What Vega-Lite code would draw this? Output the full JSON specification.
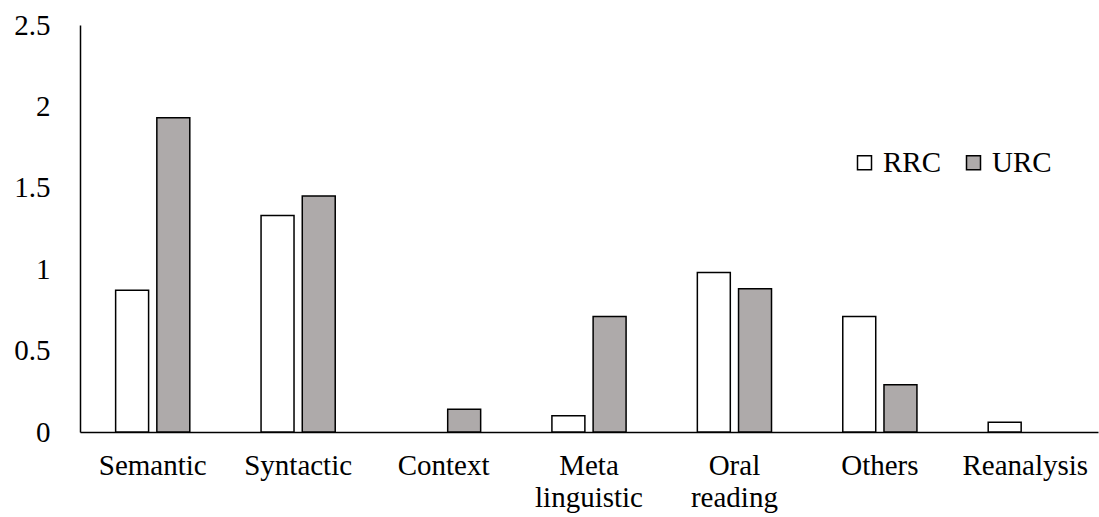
{
  "$schema": "https://vega.github.io/schema/vega-lite/v6.json",
  "autosize": {"type": "none"},
  "width": 1018,
  "height": 407,
  "padding": {"left": 80, "top": 25, "right": 1, "bottom": 85},
  "background": "white",
  "config": {
    "view": {"stroke": null},
    "font": "'Liberation Serif', serif",
    "text": {"font": "'Liberation Serif', serif"}
  },
  "data": {
    "values": [
      {"category": "Semantic", "group": "RRC", "value": 0.87},
      {"category": "Semantic", "group": "URC", "value": 1.93},
      {"category": "Syntactic", "group": "RRC", "value": 1.33},
      {"category": "Syntactic", "group": "URC", "value": 1.45},
      {"category": "Context", "group": "RRC", "value": 0},
      {"category": "Context", "group": "URC", "value": 0.14},
      {"category": "Meta linguistic", "group": "RRC", "value": 0.10},
      {"category": "Meta linguistic", "group": "URC", "value": 0.71},
      {"category": "Oral reading", "group": "RRC", "value": 0.98},
      {"category": "Oral reading", "group": "URC", "value": 0.88},
      {"category": "Others", "group": "RRC", "value": 0.71},
      {"category": "Others", "group": "URC", "value": 0.29},
      {"category": "Reanalysis", "group": "RRC", "value": 0.06},
      {"category": "Reanalysis", "group": "URC", "value": 0}
    ]
  },
  "transform": [{"filter": "datum.value > 0"}],
  "mark": {"type": "bar", "stroke": "black", "strokeWidth": 1.5},
  "encoding": {
    "x": {
      "field": "category",
      "type": "nominal",
      "sort": ["Semantic", "Syntactic", "Context", "Meta linguistic", "Oral reading", "Others", "Reanalysis"],
      "scale": {"paddingInner": 0.49, "paddingOuter": 0.245},
      "axis": {
        "title": null,
        "labelAngle": 0,
        "labelFont": "'Liberation Serif', serif",
        "labelFontSize": 29,
        "labelColor": "black",
        "labelPadding": 19,
        "labelLineHeight": 32,
        "labelExpr": "split(datum.label, ' ')",
        "ticks": false,
        "domainColor": "black",
        "domainWidth": 1.5
      }
    },
    "xOffset": {
      "field": "group",
      "type": "nominal",
      "scale": {"domain": ["RRC", "URC"], "paddingInner": 0.2, "paddingOuter": 0}
    },
    "y": {
      "field": "value",
      "type": "quantitative",
      "scale": {"domain": [0, 2.5], "nice": false},
      "axis": {
        "title": null,
        "values": [0, 0.5, 1, 1.5, 2, 2.5],
        "labelExpr": "datum.value + ''",
        "grid": false,
        "ticks": false,
        "labelFont": "'Liberation Serif', serif",
        "labelFontSize": 29,
        "labelColor": "black",
        "labelPadding": 30,
        "domainColor": "black",
        "domainWidth": 1.5
      }
    },
    "fill": {
      "field": "group",
      "type": "nominal",
      "scale": {"domain": ["RRC", "URC"], "range": ["#ffffff", "#aeaaaa"]},
      "legend": {
        "title": null,
        "orient": "none",
        "legendX": 770,
        "legendY": 123,
        "direction": "horizontal",
        "symbolType": "square",
        "symbolSize": 196,
        "symbolStrokeColor": "black",
        "symbolStrokeWidth": 1.5,
        "labelFont": "'Liberation Serif', serif",
        "labelFontSize": 29,
        "labelColor": "black",
        "labelOffset": 4,
        "columnPadding": 17
      }
    }
  }
}
